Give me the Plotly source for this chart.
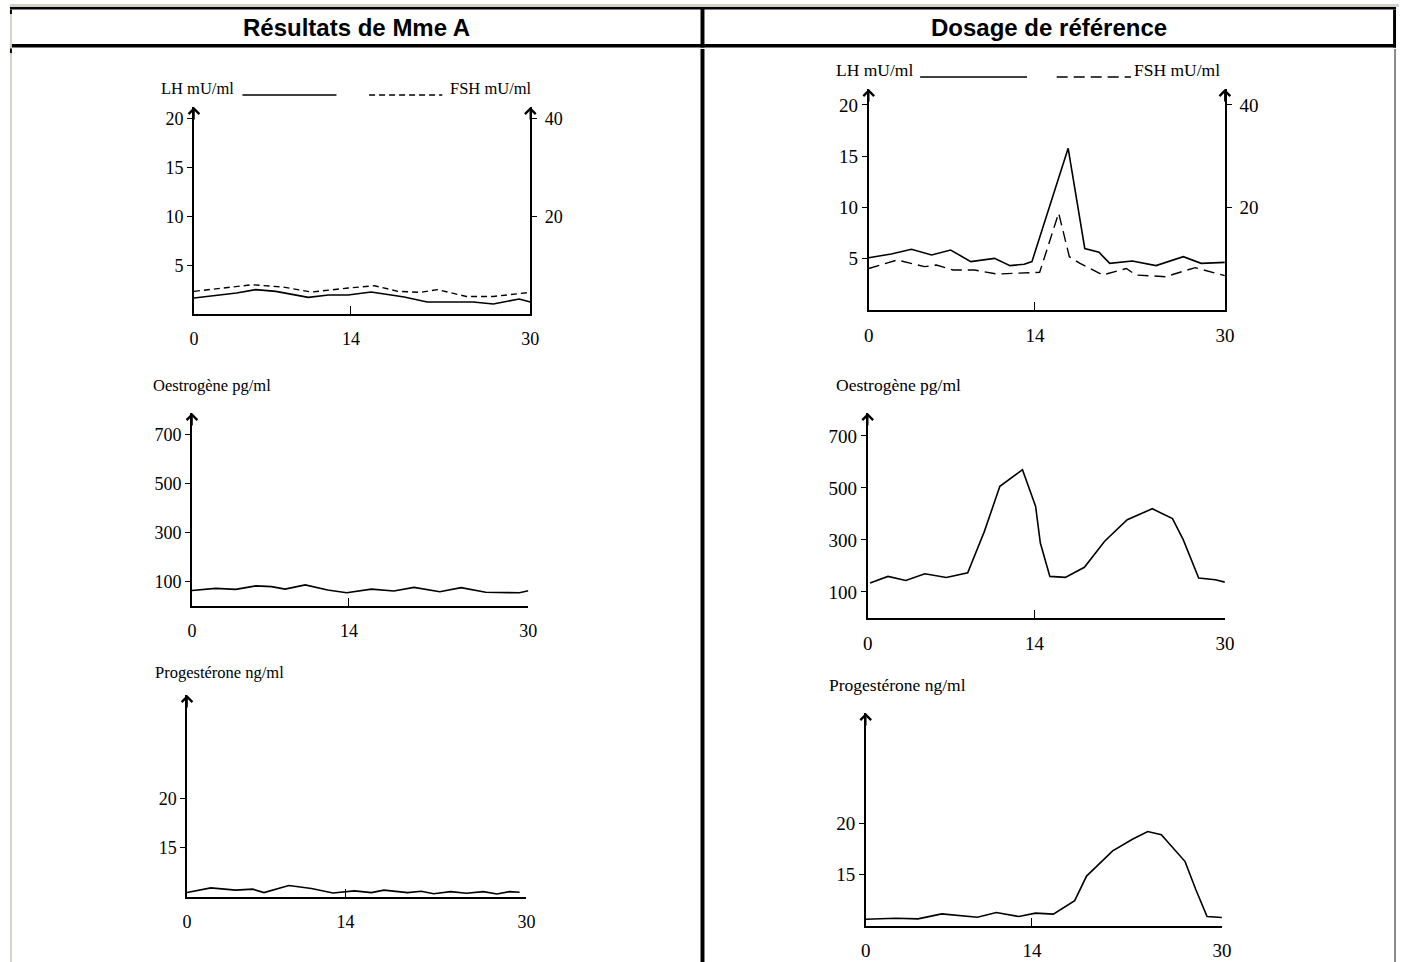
import plotly.graph_objects as go

W, H = 1409, 962

# ---------------- data ----------------
col_titles = ["Résultats de Mme A", "Dosage de référence"]
x_ticks = [0, 14, 30]
lh_ticks = [5, 10, 15, 20]
fsh_ticks = [20, 40]
oes_ticks = [100, 300, 500, 700]
pro_ticks = [15, 20]

lh_label = "LH mU/ml"
fsh_label = "FSH mU/ml"
oes_label = "Oestrogène pg/ml"
pro_label = "Progestérone ng/ml"

# Mme A
a_lh_days = [0, 3.8, 5.5, 7.3, 10.2, 12.0, 13.75, 15.8, 18.75, 20.8, 24.9, 26.7, 29.0, 30.0]
a_lh_vals = [1.64, 2.15, 2.5, 2.32, 1.71, 1.95, 1.95, 2.26, 1.74, 1.23, 1.23, 1.03, 1.54, 1.23]
a_fsh_days = [0, 5.2, 7.9, 10.5, 13.75, 16.1, 18.2, 20.2, 21.7, 24.3, 26.7, 30.0]
a_fsh_vals = [4.65, 6.0, 5.54, 4.5, 5.33, 5.8, 4.65, 4.44, 5.0, 3.6, 3.6, 4.44]
a_oes_days = [0, 2.1, 3.9, 5.7, 7.1, 8.3, 10.1, 12.1, 13.8, 16.0, 18.0, 19.8, 22.1, 24.0, 26.2, 29.2, 30.0]
a_oes_vals = [63, 72, 68, 82, 79, 69, 86, 65, 54, 69, 61, 76, 58, 75, 56, 54, 62]
a_pro_days = [0, 2.1, 4.3, 5.8, 6.8, 9.0, 11.0, 12.9, 14.8, 16.3, 17.4, 19.5, 20.7, 21.8, 23.3, 24.7, 26.2, 27.4, 28.5, 29.4]
a_pro_vals = [10.45, 10.93, 10.7, 10.8, 10.45, 11.17, 10.86, 10.41, 10.62, 10.45, 10.7, 10.45, 10.59, 10.34, 10.55, 10.38, 10.55, 10.31, 10.55, 10.48]

# Reference
r_lh_days = [0, 1.9, 3.6, 5.3, 6.9, 8.6, 10.6, 11.9, 13.1, 13.75, 16.8, 18.2, 19.4, 20.3, 22.2, 24.2, 26.5, 28.0, 30.0]
r_lh_vals = [5.1, 5.46, 5.92, 5.37, 5.85, 4.72, 5.04, 4.33, 4.46, 4.72, 15.77, 6.0, 5.63, 4.55, 4.78, 4.33, 5.2, 4.55, 4.65]
r_fsh_days = [0, 2.4, 4.7, 5.7, 7.1, 8.9, 10.8, 14.4, 16.0, 16.9, 17.8, 19.7, 21.7, 22.5, 25.0, 27.5, 30.0]
r_fsh_vals = [8.1, 9.76, 8.46, 8.78, 7.8, 7.8, 7.02, 7.35, 18.9, 10.4, 9.1, 6.83, 8.1, 6.83, 6.5, 8.26, 6.7]
r_oes_days = [0.2, 1.7, 3.2, 4.8, 6.6, 8.4, 9.8, 11.1, 13.0, 14.1, 14.5, 15.3, 16.6, 18.2, 19.9, 21.8, 23.9, 25.6, 26.5, 27.8, 29.2, 30.0]
r_oes_vals = [135, 160, 144, 170, 156, 174, 333, 506, 570, 430, 288, 160, 156, 195, 295, 378, 420, 382, 301, 154, 147, 138]
r_pro_days = [0, 2.5, 4.4, 6.4, 9.4, 11.0, 12.9, 14.3, 15.8, 17.6, 18.6, 20.8, 22.5, 23.75, 24.9, 26.0, 26.9, 27.8, 28.75, 30.0]
r_pro_vals = [10.66, 10.75, 10.69, 11.18, 10.85, 11.31, 10.92, 11.25, 11.15, 12.46, 14.85, 17.3, 18.46, 19.18, 18.88, 17.48, 16.26, 13.54, 10.92, 10.82]

# ---------------- layout helpers ----------------
def fx(p):
    return p / W

def fy(p):
    return 1 - p / H

SERIF = "Liberation Serif"

# panel geometry: x px span, y px span (bottom, top), y range, text size, tick size, x-label standoff
panels = [
    dict(x=(191, 531), y=(314, 107), yr=[0, 21.23], fs=16, ts=18, so=8, yt=lh_ticks),
    dict(x=(873, 1233), y=(310, 89), yr=[0, 21.56], fs=17, ts=19, so=7, yt=lh_ticks),
    dict(x=(189, 529), y=(606, 413), yr=[0, 788], fs=16, ts=18, so=8, yt=oes_ticks),
    dict(x=(872, 1233), y=(618, 413), yr=[0, 788], fs=17, ts=19, so=7, yt=oes_ticks),
    dict(x=(184, 527), y=(897, 695), yr=[10, 30.6], fs=16, ts=18, so=8, yt=pro_ticks),
    dict(x=(870, 1230), y=(926, 713), yr=[10, 30.7], fs=17, ts=19, so=6, yt=pro_ticks),
]

fig = go.Figure()
layout = dict(
    width=W, height=H, margin=dict(l=0, r=0, t=0, b=0),
    paper_bgcolor="white", plot_bgcolor="rgba(0,0,0,0)",
    showlegend=False,
)
annotations = []
shapes = []

for i, p in enumerate(panels, start=1):
    xa = "xaxis" if i == 1 else f"xaxis{i}"
    ya = "yaxis" if i == 1 else f"yaxis{i}"
    xr = "x" if i == 1 else f"x{i}"
    yr = "y" if i == 1 else f"y{i}"
    layout[xa] = dict(
        domain=[fx(p["x"][0]), fx(p["x"][1])], range=[0, 30], anchor=yr,
        showline=True, linecolor="black", linewidth=1.6,
        ticks="inside", ticklen=8, tickwidth=1.3, tickcolor="black",
        tickvals=x_ticks, showgrid=False, zeroline=False,
        tickfont=dict(family=SERIF, size=p["ts"], color="black"),
        ticklabelstandoff=p["so"], fixedrange=True,
    )
    layout[ya] = dict(
        domain=[fy(p["y"][0]), fy(p["y"][1])], range=p["yr"], anchor=xr,
        showline=True, linecolor="black", linewidth=1.6,
        ticks="outside", ticklen=5, tickwidth=1.2, tickcolor="black",
        tickvals=p["yt"], showgrid=False, zeroline=False,
        tickfont=dict(family=SERIF, size=p["ts"], color="black"),
        fixedrange=True,
    )
    annotations.append(dict(
        x=0, y=p["yr"][1], xref=xr, yref=yr, text="", showarrow=True,
        ax=0, ay=14, arrowhead=4, arrowsize=1.3, arrowwidth=1.6, arrowcolor="black",
    ))

# secondary FSH axes
for base, sec in [(1, 7), (2, 8)]:
    p = panels[base - 1]
    xr = "x" if base == 1 else f"x{base}"
    yb = "y" if base == 1 else f"y{base}"
    layout[f"yaxis{sec}"] = dict(
        domain=[fy(p["y"][0]), fy(p["y"][1])], range=[0, 2 * p["yr"][1]],
        overlaying=yb, side="right", anchor=xr,
        showline=True, linecolor="black", linewidth=1.6,
        ticks="outside", ticklen=5, tickwidth=1.2, tickcolor="black",
        tickvals=fsh_ticks, showgrid=False, zeroline=False,
        tickfont=dict(family=SERIF, size=p["ts"], color="black"),
        ticklabelstandoff=4, fixedrange=True,
    )
    annotations.append(dict(
        x=30, y=p["yr"][1], xref=xr, yref=yb, text="", showarrow=True,
        ax=0, ay=14, arrowhead=4, arrowsize=1.3, arrowwidth=1.6, arrowcolor="black",
    ))

line_solid = dict(color="black", width=1.6)
fig.add_trace(go.Scatter(x=a_lh_days, y=a_lh_vals, mode="lines", line=line_solid, xaxis="x", yaxis="y"))
fig.add_trace(go.Scatter(x=a_fsh_days, y=a_fsh_vals, mode="lines",
                         line=dict(color="black", width=1.4, dash="6px,4px"), xaxis="x", yaxis="y7"))
fig.add_trace(go.Scatter(x=r_lh_days, y=r_lh_vals, mode="lines", line=line_solid, xaxis="x2", yaxis="y2"))
fig.add_trace(go.Scatter(x=r_fsh_days, y=r_fsh_vals, mode="lines",
                         line=dict(color="black", width=1.4, dash="11px,6px"), xaxis="x2", yaxis="y8"))
fig.add_trace(go.Scatter(x=a_oes_days, y=a_oes_vals, mode="lines", line=line_solid, xaxis="x3", yaxis="y3"))
fig.add_trace(go.Scatter(x=r_oes_days, y=r_oes_vals, mode="lines", line=line_solid, xaxis="x4", yaxis="y4"))
fig.add_trace(go.Scatter(x=a_pro_days, y=a_pro_vals, mode="lines", line=line_solid, xaxis="x5", yaxis="y5"))
fig.add_trace(go.Scatter(x=r_pro_days, y=r_pro_vals, mode="lines", line=line_solid, xaxis="x6", yaxis="y6"))

def label(text, xpx, ypx, size, anchor="left"):
    annotations.append(dict(
        x=fx(xpx), y=fy(ypx), xref="paper", yref="paper", text=text, showarrow=False,
        xanchor=anchor, yanchor="middle", font=dict(family=SERIF, size=size, color="black"),
    ))

label(lh_label, 156, 88, 16.5)
label(fsh_label, 535, 88, 16.5, "right")
label(lh_label, 838, 70, 17.5)
label(fsh_label, 1230, 70, 17.5, "right")
label(oes_label, 148, 385, 16.5)
label(oes_label, 838, 385, 17.5)
label(pro_label, 150, 672, 16.5)
label(pro_label, 831, 685, 17.5)

def hline(x0, x1, ypx, dash="solid", width=1.3):
    shapes.append(dict(type="line", xref="paper", yref="paper",
                       x0=fx(x0), x1=fx(x1), y0=fy(ypx), y1=fy(ypx),
                       line=dict(color="black", width=width, dash=dash)))

hline(240, 335, 95)
hline(368, 442, 95, "6px,4px")
hline(925, 1033, 77)
hline(1063, 1138, 77, "11px,6px")

for text, cx in zip(col_titles, [355, 1055]):
    annotations.append(dict(
        x=fx(cx), y=fy(27), xref="paper", yref="paper", text=f"<b>{text}</b>", showarrow=False,
        xanchor="center", yanchor="middle",
        font=dict(family="Liberation Sans", size=24, color="black"),
    ))

def rect(x0, y0, x1, y1, color):
    shapes.append(dict(type="rect", xref="paper", yref="paper",
                       x0=fx(x0), x1=fx(x1), y0=fy(y0), y1=fy(y1),
                       line=dict(width=0), fillcolor=color, layer="above"))

GRAY = "#d4d0c8"
rect(5, 4, 1409, 7, GRAY)
rect(5, 7, 1406, 9.5, "black")
rect(5, 44, 1406, 47.5, "black")
rect(5, 9.5, 7, 962, GRAY)
rect(5, 9.5, 7, 14, "black")
rect(5, 48.5, 7, 53, "black")
rect(1403, 9.5, 1406, 47.5, "black")
rect(1404, 49, 1406, 962, "#8a8a8a")
rect(703, 7, 707, 47.5, "black")
rect(703, 49, 707, 962, "black")

layout["annotations"] = annotations
layout["shapes"] = shapes
fig.update_layout(**layout)

page_css = (
    "document.documentElement.style.margin='0';"
    "document.documentElement.style.padding='0';"
    "document.documentElement.style.overflow='hidden';"
    "document.body.style.margin='0';"
    "document.body.style.padding='0';"
    "document.body.style.overflow='hidden';"
    "document.body.style.width='1409px';"
    "document.body.style.height='962px';"
)

fig.write_html("out.html", config={"displayModeBar": False}, post_script=page_css)
